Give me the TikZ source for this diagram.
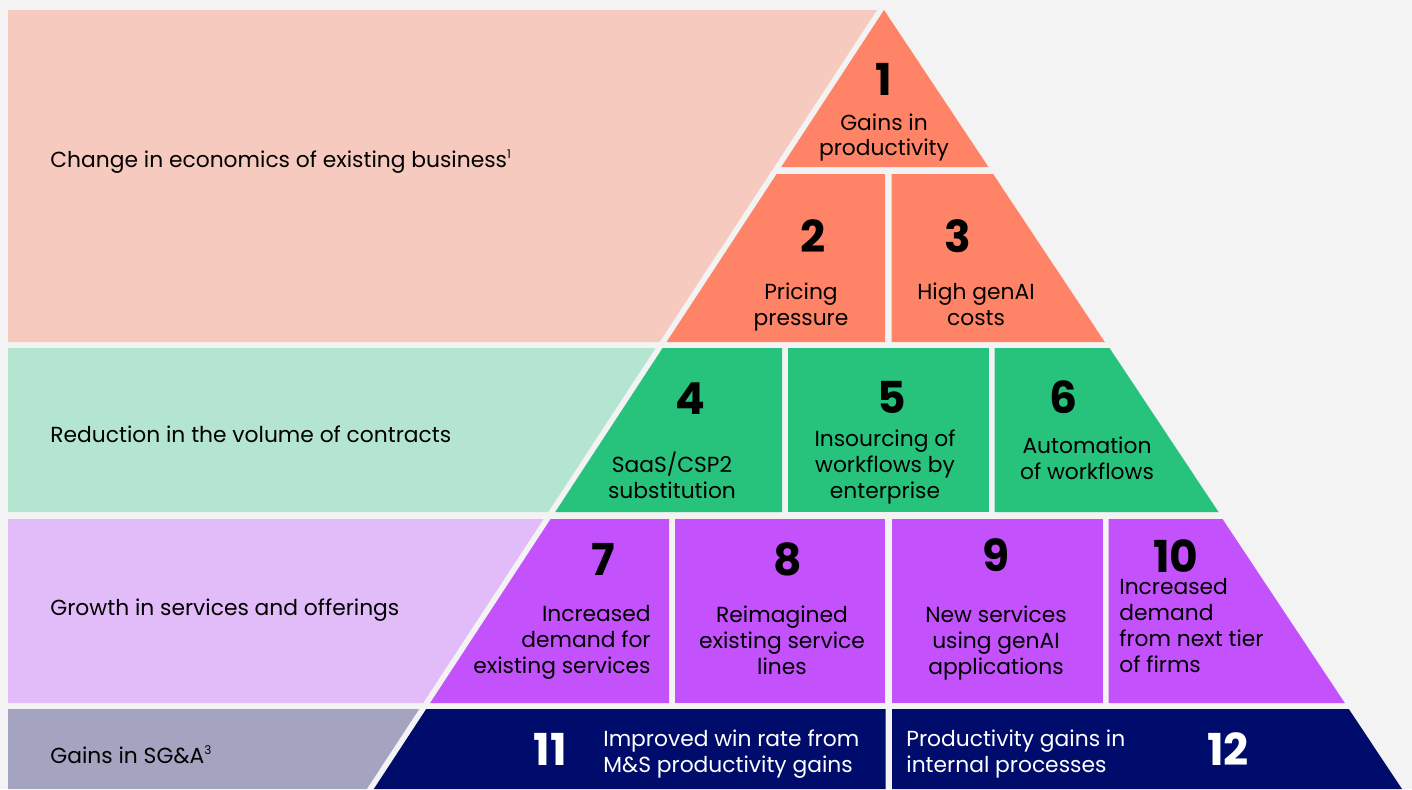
\documentclass[tikz,border=0pt]{standalone}
\usepackage{fontspec}
\setmainfont{Poppins}
\definecolor{bgGray}{HTML}{F3F3F3}
\definecolor{pinkLight}{HTML}{F7CABF}
\definecolor{salmon}{HTML}{FF8467}
\definecolor{greenLight}{HTML}{B4E5D1}
\definecolor{greenDark}{HTML}{27C37C}
\definecolor{purpleLight}{HTML}{E2BCF8}
\definecolor{purpleDark}{HTML}{C452FC}
\definecolor{grayBlue}{HTML}{A4A4C1}
\definecolor{navy}{HTML}{000C6B}
\newcommand{\fnmark}[1]{\raisebox{0.75ex}{\fontsize{6}{6}\selectfont #1}}

\begin{document}
\begin{tikzpicture}
        [x=0.5pt, y=-0.5pt,
        num/.style={inner sep=0, font=\fontsize{22}{26}\selectfont\bfseries},
        txt/.style={inner sep=0, align=center, anchor=north, font=\fontsize{10.9}{13}\selectfont},
        side/.style={inner sep=0, anchor=base west, font=\fontsize{10.9}{13}\selectfont}]
        \useasboundingbox (0,0) rectangle (1412,789);
        \fill[bgGray] (0,0) rectangle (1412,789);

        % left bands
        \fill[pinkLight] (8,10) -- (877,10) -- (659.5,342) -- (8,342) -- cycle;
        \fill[greenLight] (8,348) -- (655.6,348) -- (548.2,512) -- (8,512) -- cycle;
        \fill[purpleLight] (8,519) -- (543.6,519) -- (423.1,703) -- (8,703) -- cycle;
        \fill[grayBlue] (8,709) -- (419.2,709) -- (366.8,789) -- (8,789) -- cycle;

        % pyramid
        \fill[salmon] (884,10) -- (988.4,167) -- (781.2,167) -- cycle;
        \fill[salmon] (776.6,174) -- (885,174) -- (885,342) -- (666.5,342) -- cycle;
        \fill[salmon] (891.5,174) -- (993.1,174) -- (1104.8,342) -- (891.5,342) -- cycle;

        \fill[greenDark] (662.6,348) -- (782,348) -- (782,512) -- (555.2,512) -- cycle;
        \fill[greenDark] (787.5,348) rectangle (988.5,512);
        \fill[greenDark] (994.5,348) -- (1109.5,348) -- (1218.5,512) -- (994.5,512) -- cycle;

        \fill[purpleDark] (550.6,519) -- (669,519) -- (669,703) -- (430.1,703) -- cycle;
        \fill[purpleDark] (675,519) rectangle (885,703);
        \fill[purpleDark] (891.5,519) rectangle (1103,703);
        \fill[purpleDark] (1108.5,519) -- (1222.5,519) -- (1344.8,703) -- (1108.5,703) -- cycle;

        \fill[navy] (426.2,709) -- (885.5,709) -- (885.5,789) -- (373.8,789) -- cycle;
        \fill[navy] (892,709) -- (1348.8,709) -- (1402,789) -- (892,789) -- cycle;

        % side labels
        \node[side] (L1) at (50,167) {Change in economics of existing business\fnmark{1}};
        \node[side] (L2) at (50,442) {Reduction in the volume of contracts};
        \node[side] (L3) at (50,615) {Growth in services and offerings};
        \node[side] (L4) at (50,763) {Gains in SG\&A\fnmark{3}};

        % numbers
        \node[num] (N1) at (884,79) {1};
        \node[num] (N2) at (813,236) {2};
        \node[num] (N3) at (958,236) {3};
        \node[num] (N4) at (690,399) {4};
        \node[num] (N5) at (892,397) {5};
        \node[num] (N6) at (1063,397) {6};
        \node[num] (N7) at (603,559) {7};
        \node[num] (N8) at (788,559) {8};
        \node[num] (N9) at (996,555) {9};
        \node[num] (N10) at (1176,556) {10};
        \node[num, white] (N11) at (550,749) {11};
        \node[num, white] (N12) at (1228,749) {12};

        % texts
        \node[txt] (T1) at (884,113) {Gains in\\productivity};
        \node[txt] (T2) at (801,282) {Pricing\\pressure};
        \node[txt] (T3) at (976,282) {High genAI\\costs};
        \node[txt] (T4) at (672,452) {SaaS/CSP2\\substitution};
        \node[txt] (T5) at (885,429) {Insourcing of\\workflows by\\enterprise};
        \node[txt] (T6) at (1087,436) {Automation\\of workflows};
        \node[txt, align=right, anchor=north east] (T7) at (651,605) {Increased\\demand for\\existing services};
        \node[txt] (T8) at (782,605) {Reimagined\\existing service\\lines};
        \node[txt] (T9) at (996,605) {New services\\using genAI\\applications};
        \node[txt, align=left, anchor=north west] (T10) at (1119,578) {Increased\\demand\\from next tier\\of firms};
        \node[txt, align=left, anchor=north west, white] (T11) at (603,729) {Improved win rate from\\M\&S productivity gains};
        \node[txt, align=left, anchor=north west, white] (T12) at (906,729) {Productivity gains in\\internal processes};
    \end{tikzpicture}
\end{document}
